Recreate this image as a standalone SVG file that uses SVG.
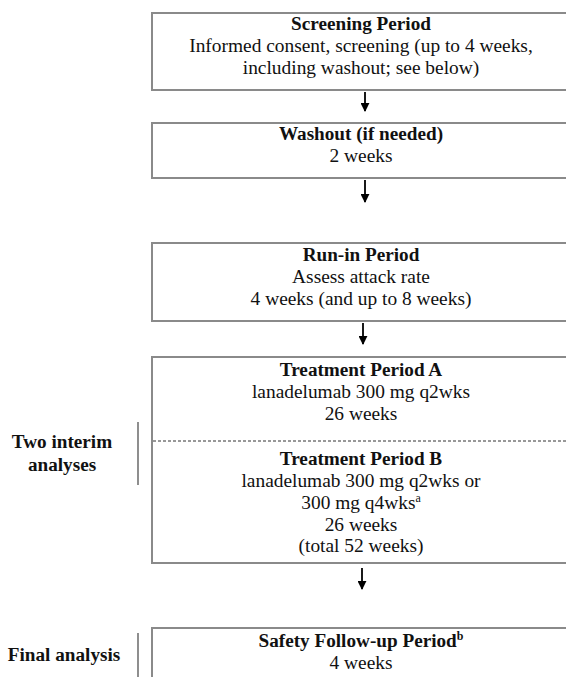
<svg xmlns="http://www.w3.org/2000/svg" width="566" height="677" viewBox="0 0 566 677">
<style>
.box{fill:#fff;stroke:#8a8a8a;stroke-width:2}
text{font-family:"Liberation Serif","Times New Roman",serif;font-size:19.4px;fill:#111;text-anchor:middle}
.b{font-weight:bold;font-size:19.2px}
.sup{font-size:12px}
.conn{stroke:#000;stroke-width:1.8;fill:none}
.bar{stroke:#444;stroke-width:1.2}
.dash{stroke:#333;stroke-width:1;stroke-dasharray:3 2}
</style>
<defs>
<marker id="ah" viewBox="0 0 10 10" refX="9" refY="5" markerWidth="9" markerHeight="9" markerUnits="userSpaceOnUse" orient="auto">
<path d="M0,0 L10,5 L0,10 z" fill="#000"/>
</marker>
</defs>
<rect width="566" height="677" fill="#fff"/>
<g id="screening">
<rect class="box" x="152" y="13" width="420" height="77"/>
<text class="b" x="361" y="30">Screening Period</text>
<text x="361" y="52">Informed consent, screening (up to 4 weeks,</text>
<text x="361" y="74">including washout; see below)</text>
</g>
<g id="washout">
<rect class="box" x="152" y="123" width="420" height="55"/>
<text class="b" x="361" y="140">Washout (if needed)</text>
<text x="361" y="162">2 weeks</text>
</g>
<g id="runin">
<rect class="box" x="152" y="243" width="420" height="78"/>
<text class="b" x="361" y="261">Run-in Period</text>
<text x="361" y="283">Assess attack rate</text>
<text x="361" y="305">4 weeks (and up to 8 weeks)</text>
</g>
<g id="treatment">
<rect class="box" x="152" y="357" width="420" height="206"/>
<text class="b" x="361" y="376">Treatment Period A</text>
<text x="361" y="398">lanadelumab 300 mg q2wks</text>
<text x="361" y="420">26 weeks</text>
<line class="dash" x1="153" y1="441" x2="572" y2="441"/>
<text class="b" x="361" y="465">Treatment Period B</text>
<text x="361" y="487">lanadelumab 300 mg q2wks or</text>
<text x="361" y="509">300 mg q4wks<tspan class="sup" dy="-7">a</tspan></text>
<text x="361" y="531">26 weeks</text>
<text x="361" y="552">(total 52 weeks)</text>
</g>
<g id="followup">
<rect class="box" x="152" y="628" width="420" height="60"/>
<text class="b" x="361" y="647">Safety Follow-up Period<tspan class="sup" dy="-7">b</tspan></text>
<text x="361" y="669">4 weeks</text>
</g>
<g id="interim">
<line class="bar" x1="138" y1="422" x2="138" y2="485"/>
<text class="b" x="62" y="448">Two interim</text>
<text class="b" x="62" y="471">analyses</text>
</g>
<g id="final">
<line class="bar" x1="138" y1="633" x2="138" y2="677"/>
<text class="b" x="64" y="661">Final analysis</text>
</g>
<g id="connectors">
<line class="conn" x1="365" y1="92" x2="365" y2="111" marker-end="url(#ah)"/>
<line class="conn" x1="365" y1="180" x2="365" y2="202" marker-end="url(#ah)"/>
<line class="conn" x1="363" y1="323" x2="363" y2="344" marker-end="url(#ah)"/>
<line class="conn" x1="362" y1="568" x2="362" y2="589" marker-end="url(#ah)"/>
</g>
</svg>
